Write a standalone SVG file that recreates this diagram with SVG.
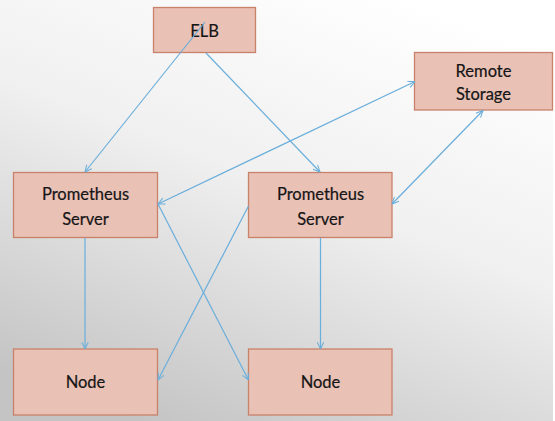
<svg xmlns="http://www.w3.org/2000/svg" width="555" height="421" viewBox="0 0 555 421">
  <defs>
    <linearGradient id="bg" x1="0.75" y1="0" x2="0.25" y2="1">
      <stop offset="0" stop-color="#ffffff"/>
      <stop offset="0.45" stop-color="#f0f0f0"/>
      <stop offset="1" stop-color="#c4c4c4"/>
    </linearGradient>
    <marker id="arr" viewBox="0 0 10 10" refX="9.5" refY="5" markerWidth="8" markerHeight="8" markerUnits="userSpaceOnUse" orient="auto-start-reverse">
      <path d="M1,1 L9.5,5 L1,9" fill="none" stroke="#6aaedb" stroke-width="1.3"/>
    </marker>
    <style>
      .box { fill: #e9c1b5; stroke: #c8826a; stroke-width: 1.3; }
      .lbl { font-family: Lato, "Open Sans", "Liberation Sans", sans-serif; font-size: 16.5px; fill: #151515; text-anchor: middle; stroke: #151515; stroke-width: 0.2; }
      .edge { fill: none; stroke: #6aaedb; stroke-width: 1.2; }
    </style>
  </defs>
  <rect x="0" y="0" width="555" height="421" fill="url(#bg)"/>
  <rect x="553" y="0" width="2" height="421" fill="#ffffff"/>

  <g id="elb">
    <rect class="box" x="153.5" y="7.5" width="102" height="45"/>
    <text class="lbl" x="204.5" y="36.5">ELB</text>
  </g>
  <g id="remote-storage">
    <rect class="box" x="414.5" y="52.5" width="138" height="57.5"/>
    <text class="lbl" x="483.5" y="76.5">Remote</text>
    <text class="lbl" x="483.5" y="100">Storage</text>
  </g>
  <g id="prometheus-1">
    <rect class="box" x="13.5" y="172.5" width="144" height="65"/>
    <text class="lbl" x="85.5" y="200">Prometheus</text>
    <text class="lbl" x="85.5" y="225">Server</text>
  </g>
  <g id="prometheus-2">
    <rect class="box" x="248.5" y="172.5" width="143.5" height="65"/>
    <text class="lbl" x="320.5" y="200">Prometheus</text>
    <text class="lbl" x="320.5" y="225">Server</text>
  </g>
  <g id="node-1">
    <rect class="box" x="13.5" y="349" width="144" height="66"/>
    <text class="lbl" x="85.5" y="388">Node</text>
  </g>
  <g id="node-2">
    <rect class="box" x="248.5" y="349" width="143.5" height="66"/>
    <text class="lbl" x="320.5" y="388">Node</text>
  </g>

  <g id="connectors">
    <line class="edge" x1="205" y1="22" x2="85" y2="172" marker-end="url(#arr)"/>
    <line class="edge" x1="206" y1="53" x2="320" y2="172" marker-end="url(#arr)"/>
    <line class="edge" x1="158" y1="204" x2="415" y2="81.5" marker-start="url(#arr)" marker-end="url(#arr)"/>
    <line class="edge" x1="392" y1="204" x2="483" y2="110.5" marker-start="url(#arr)" marker-end="url(#arr)"/>
    <line class="edge" x1="85" y1="238" x2="85" y2="349" marker-end="url(#arr)"/>
    <line class="edge" x1="320.5" y1="238" x2="320.5" y2="349" marker-end="url(#arr)"/>
    <line class="edge" x1="158" y1="204" x2="248.5" y2="380" marker-end="url(#arr)"/>
    <line class="edge" x1="248.5" y1="206" x2="158" y2="380" marker-end="url(#arr)"/>
  </g>
</svg>
